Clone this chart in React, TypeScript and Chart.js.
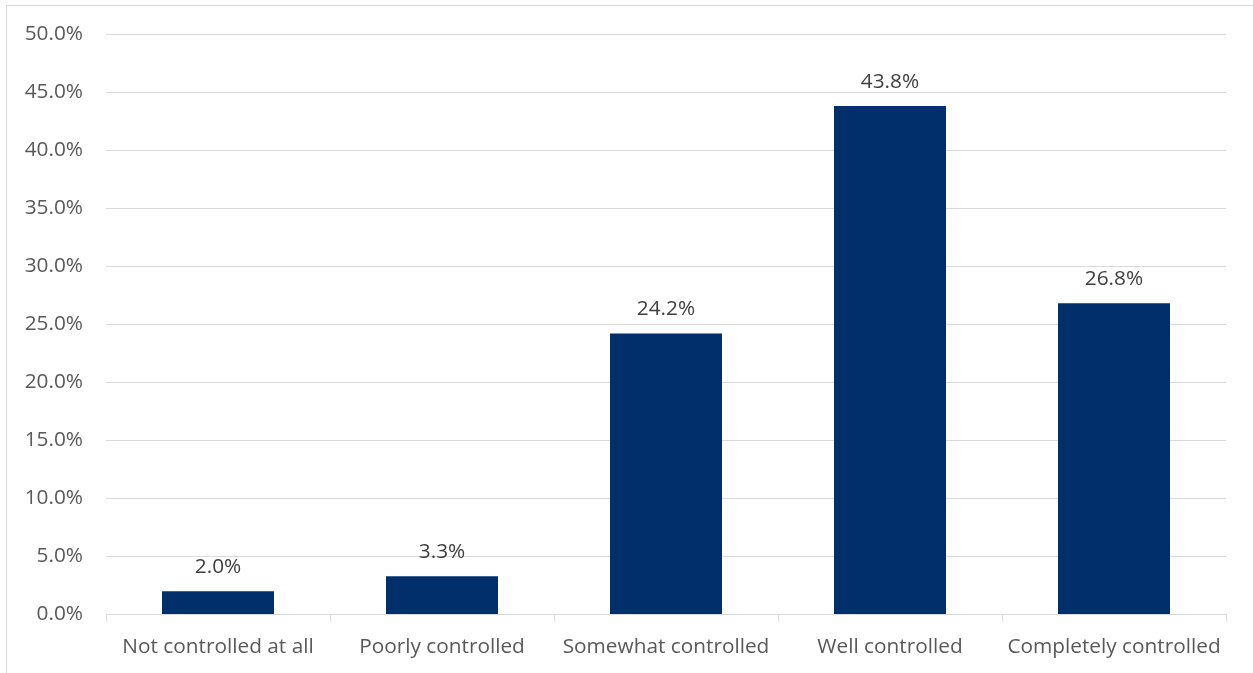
import React, { useEffect, useRef } from "react";
import { Chart, registerables } from "chart.js";

Chart.register(...registerables);

const categories = [
  "Not controlled at all",
  "Poorly controlled",
  "Somewhat controlled",
  "Well controlled",
  "Completely controlled",
];
const values = [2.0, 3.3, 24.2, 43.8, 26.8];

const FONT = "'Open Sans', 'Noto Sans', sans-serif";
const FS = 20.8;

const labelPlugin = {
  id: "barLabels",
  afterDatasetsDraw(chart: any) {
    const ctx = chart.ctx;
    const meta = chart.getDatasetMeta(0);
    ctx.save();
    ctx.font = `${FS}px ${FONT}`;
    ctx.fillStyle = "#404040";
    ctx.textAlign = "center";
    ctx.textBaseline = "middle";
    meta.data.forEach((bar: any, i: number) => {
      ctx.fillText(values[i].toFixed(1) + "%", bar.x, bar.y - 24);
    });
    ctx.restore();
  },
};

export default function App() {
  const ref = useRef<HTMLCanvasElement>(null);
  useEffect(() => {
    document.body.style.margin = "0";
    document.body.style.overflow = "hidden";
    const chart = new Chart(ref.current!, {
      type: "bar",
      data: {
        labels: categories,
        datasets: [
          {
            data: values,
            backgroundColor: "#002F6C",
            categoryPercentage: 1,
            barPercentage: 0.5,
          },
        ],
      },
      options: {
        animation: false,
        responsive: false,
        maintainAspectRatio: false,
        layout: { padding: { left: 0, right: 27, top: 28, bottom: 0 } },
        plugins: { legend: { display: false }, tooltip: { enabled: false } },
        scales: {
          x: {
            grid: {
              drawOnChartArea: false,
              drawTicks: true,
              tickLength: 7,
              color: "#d9d9d9",
            },
            border: { color: "#d9d9d9", width: 1 },
            ticks: {
              color: "#595959",
              font: { family: FONT, size: FS },
              padding: 13,
              maxRotation: 0,
              autoSkip: false,
            },
            afterFit(scale: any) {
              scale.height = 58.5;
              scale.paddingLeft = 0;
              scale.paddingRight = 0;
            },
          },
          y: {
            min: 0,
            max: 50,
            ticks: {
              stepSize: 5,
              color: "#595959",
              font: { family: FONT, size: FS },
              padding: 23,
              callback: (v: any) => Number(v).toFixed(1) + "%",
            },
            grid: { color: "#d9d9d9", drawTicks: false, lineWidth: 1 },
            border: { display: false },
            afterFit(scale: any) {
              scale.width = 99;
              scale.paddingTop = 0;
              scale.paddingBottom = 0;
            },
          },
        },
      },
      plugins: [labelPlugin],
    });
    return () => chart.destroy();
  }, []);
  return (
    <div
      style={{
        position: "absolute",
        left: 6,
        top: 5,
        width: 1260,
        height: 680,
        border: "1px solid #d9d9d9",
        background: "#fff",
      }}
    >
      <canvas ref={ref} width={1246} height={667} style={{ display: "block" }} />
    </div>
  );
}
